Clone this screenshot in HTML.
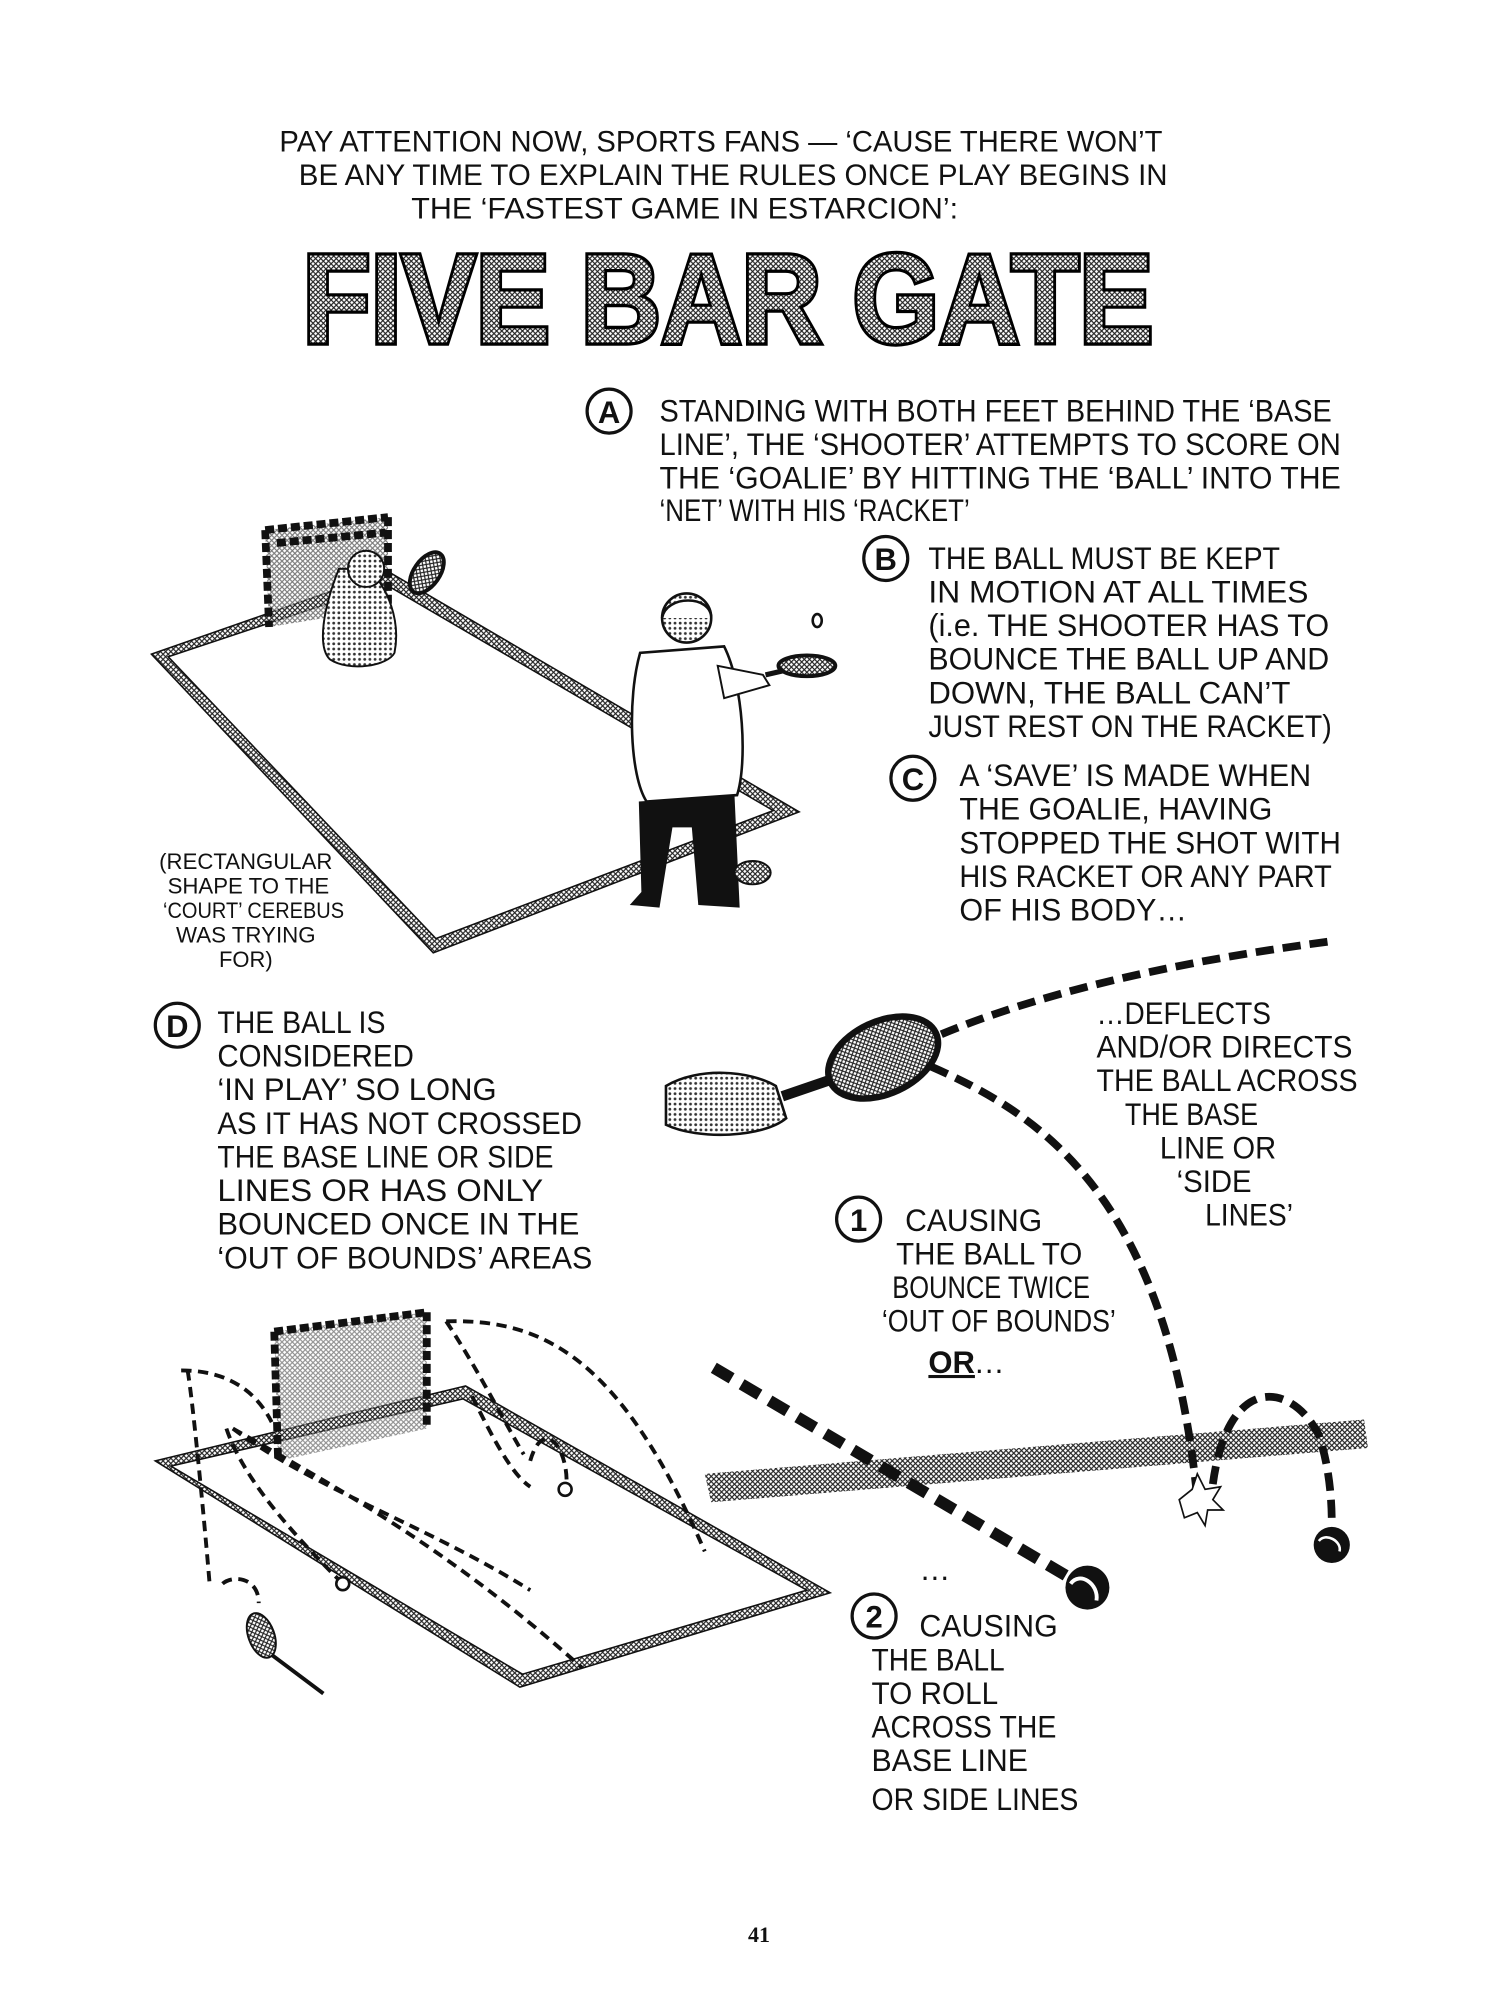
<!DOCTYPE html>
<html><head><meta charset="utf-8"><style>
html,body{margin:0;padding:0;background:#fff;}
svg{display:block;}
text{font-family:"Liberation Sans",sans-serif;fill:#111;}
</style></head><body>
<svg width="1500" height="2000" viewBox="0 0 1160 1547" xmlns="http://www.w3.org/2000/svg">
<defs>
<pattern id="hatch" width="4" height="4" patternUnits="userSpaceOnUse">
<rect width="4" height="4" fill="#fff"/><path d="M0 0L4 4M4 0L0 4" stroke="#222" stroke-width="0.9"/>
</pattern>
<pattern id="dots" width="4" height="4" patternUnits="userSpaceOnUse">
<rect width="4" height="4" fill="#fff"/><circle cx="2" cy="2" r="1.1" fill="#333"/>
</pattern>
</defs>

<g font-size="23">
<text x="216" y="117" textLength="683" lengthAdjust="spacingAndGlyphs">PAY ATTENTION NOW, SPORTS FANS — ‘CAUSE THERE WON’T</text>
<text x="231" y="143" textLength="672" lengthAdjust="spacingAndGlyphs">BE ANY TIME TO EXPLAIN THE RULES ONCE PLAY BEGINS IN</text>
<text x="318" y="169" textLength="423" lengthAdjust="spacingAndGlyphs">THE ‘FASTEST GAME IN ESTARCION’:</text>
</g>

<text x="234" y="265" font-size="98" font-weight="bold" textLength="658" lengthAdjust="spacingAndGlyphs" style="fill:url(#hatch);stroke:#000;stroke-width:5;paint-order:stroke">FIVE BAR GATE</text>

<g fill="#fff" stroke="#111" stroke-width="2.5">
<circle cx="471" cy="318" r="17"/><circle cx="685" cy="432" r="17"/><circle cx="706" cy="602" r="17"/>
<circle cx="137" cy="793" r="17"/><circle cx="664" cy="943" r="17"/><circle cx="676" cy="1250" r="17"/>
</g>
<g font-size="24" font-weight="bold" text-anchor="middle">
<text x="471" y="327">A</text><text x="685" y="441">B</text><text x="706" y="611">C</text>
<text x="137" y="802">D</text><text x="664" y="952">1</text><text x="676" y="1259">2</text>
</g>

<g font-size="24">
<text x="510" y="326" textLength="520" lengthAdjust="spacingAndGlyphs">STANDING WITH BOTH FEET BEHIND THE ‘BASE</text>
<text x="510" y="352" textLength="527" lengthAdjust="spacingAndGlyphs">LINE’, THE ‘SHOOTER’ ATTEMPTS TO SCORE ON</text>
<text x="510" y="378" textLength="527" lengthAdjust="spacingAndGlyphs">THE ‘GOALIE’ BY HITTING THE ‘BALL’ INTO THE</text>
<text x="510" y="403" textLength="240" lengthAdjust="spacingAndGlyphs">‘NET’ WITH HIS ‘RACKET’</text>

<text x="718" y="440" textLength="272" lengthAdjust="spacingAndGlyphs">THE BALL MUST BE KEPT</text>
<text x="718" y="466" textLength="294" lengthAdjust="spacingAndGlyphs">IN MOTION AT ALL TIMES</text>
<text x="718" y="492" textLength="310" lengthAdjust="spacingAndGlyphs">(i.e. THE SHOOTER HAS TO</text>
<text x="718" y="518" textLength="310" lengthAdjust="spacingAndGlyphs">BOUNCE THE BALL UP AND</text>
<text x="718" y="544" textLength="280" lengthAdjust="spacingAndGlyphs">DOWN, THE BALL CAN’T</text>
<text x="718" y="570" textLength="312" lengthAdjust="spacingAndGlyphs">JUST REST ON THE RACKET)</text>

<text x="742" y="608" textLength="272" lengthAdjust="spacingAndGlyphs">A ‘SAVE’ IS MADE WHEN</text>
<text x="742" y="634" textLength="242" lengthAdjust="spacingAndGlyphs">THE GOALIE, HAVING</text>
<text x="742" y="660" textLength="295" lengthAdjust="spacingAndGlyphs">STOPPED THE SHOT WITH</text>
<text x="742" y="686" textLength="288" lengthAdjust="spacingAndGlyphs">HIS RACKET OR ANY PART</text>
<text x="742" y="712" textLength="176" lengthAdjust="spacingAndGlyphs">OF HIS BODY…</text>

<text x="168" y="799" textLength="130" lengthAdjust="spacingAndGlyphs">THE BALL IS</text>
<text x="168" y="825" textLength="152" lengthAdjust="spacingAndGlyphs">CONSIDERED</text>
<text x="168" y="851" textLength="216" lengthAdjust="spacingAndGlyphs">‘IN PLAY’ SO LONG</text>
<text x="168" y="877" textLength="282" lengthAdjust="spacingAndGlyphs">AS IT HAS NOT CROSSED</text>
<text x="168" y="903" textLength="260" lengthAdjust="spacingAndGlyphs">THE BASE LINE OR SIDE</text>
<text x="168" y="929" textLength="252" lengthAdjust="spacingAndGlyphs">LINES OR HAS ONLY</text>
<text x="168" y="955" textLength="280" lengthAdjust="spacingAndGlyphs">BOUNCED ONCE IN THE</text>
<text x="168" y="981" textLength="290" lengthAdjust="spacingAndGlyphs">‘OUT OF BOUNDS’ AREAS</text>

<text x="848" y="792" textLength="135" lengthAdjust="spacingAndGlyphs">…DEFLECTS</text>
<text x="848" y="818" textLength="198" lengthAdjust="spacingAndGlyphs">AND/OR DIRECTS</text>
<text x="848" y="844" textLength="202" lengthAdjust="spacingAndGlyphs">THE BALL ACROSS</text>
<text x="870" y="870" textLength="103" lengthAdjust="spacingAndGlyphs">THE BASE</text>
<text x="897" y="896" textLength="90" lengthAdjust="spacingAndGlyphs">LINE OR</text>
<text x="910" y="922" textLength="58" lengthAdjust="spacingAndGlyphs">‘SIDE</text>
<text x="932" y="948" textLength="68" lengthAdjust="spacingAndGlyphs">LINES’</text>

<text x="700" y="952" textLength="106" lengthAdjust="spacingAndGlyphs">CAUSING</text>
<text x="693" y="978" textLength="144" lengthAdjust="spacingAndGlyphs">THE BALL TO</text>
<text x="690" y="1004" textLength="153" lengthAdjust="spacingAndGlyphs">BOUNCE TWICE</text>
<text x="682" y="1030" textLength="181" lengthAdjust="spacingAndGlyphs">‘OUT OF BOUNDS’</text>
<text x="718" y="1062" font-weight="bold" text-decoration="underline">OR</text><text x="753" y="1062">…</text>

<text x="711" y="1222">…</text>
<text x="711" y="1266" textLength="107" lengthAdjust="spacingAndGlyphs">CAUSING</text>
<text x="674" y="1292" textLength="103" lengthAdjust="spacingAndGlyphs">THE BALL</text>
<text x="674" y="1318" textLength="98" lengthAdjust="spacingAndGlyphs">TO ROLL</text>
<text x="674" y="1344" textLength="143" lengthAdjust="spacingAndGlyphs">ACROSS THE</text>
<text x="674" y="1370" textLength="121" lengthAdjust="spacingAndGlyphs">BASE LINE</text>
<text x="674" y="1400" textLength="160" lengthAdjust="spacingAndGlyphs">OR SIDE LINES</text>
</g>

<g font-size="17" text-anchor="middle">
<text x="190" y="672" textLength="134" lengthAdjust="spacingAndGlyphs">(RECTANGULAR</text>
<text x="192" y="691" textLength="125" lengthAdjust="spacingAndGlyphs">SHAPE TO THE</text>
<text x="196" y="710" textLength="140" lengthAdjust="spacingAndGlyphs">‘COURT’ CEREBUS</text>
<text x="190" y="729" textLength="108" lengthAdjust="spacingAndGlyphs">WAS TRYING</text>
<text x="190" y="748">FOR)</text>
</g>
<text x="587" y="1502" font-size="17" font-weight="bold" text-anchor="middle" style="font-family:'Liberation Serif',serif">41</text>

<!-- Court 1 -->
<path d="M117 506L300 442L618 628L335 737Z M130 508L298 452L598 627L337 726Z" fill="url(#hatch)" fill-rule="evenodd" stroke="#111" stroke-width="1.2"/>
<path d="M205 410L300 400L300 470L208 485Z" fill="url(#hatch)" opacity="0.6"/>
<path d="M205 410L300 400M205 410L208 485M300 400L300 470M214 420L298 412" stroke="#111" stroke-width="6" fill="none" stroke-dasharray="7 3"/>
<path d="M262 440C250 470 245 500 255 510C270 520 300 515 305 505C310 480 300 455 285 440Z" fill="url(#dots)" stroke="#111" stroke-width="1.5"/>
<circle cx="283" cy="440" r="14" fill="url(#dots)" stroke="#111" stroke-width="1.5"/>
<ellipse cx="330" cy="443" rx="10" ry="18" transform="rotate(35 330 443)" fill="url(#hatch)" stroke="#111" stroke-width="3"/>
<path d="M495 505C485 540 487 600 500 620L570 615C578 590 575 530 560 500Z" fill="#fff" stroke="#111" stroke-width="2"/>
<path d="M555 515L590 522L595 530L560 540Z" fill="#fff" stroke="#111" stroke-width="1.5"/>
<path d="M494 620L496 690L487 700L510 702L520 640L535 640L540 700L572 702L568 615Z" fill="#111"/>
<circle cx="531" cy="478" r="19" fill="url(#dots)" stroke="#111" stroke-width="2"/>
<path d="M512 478C515 460 550 460 550 478" fill="#fff" stroke="#111" stroke-width="2"/>
<line x1="592" y1="522" x2="605" y2="519" stroke="#111" stroke-width="4"/>
<ellipse cx="624" cy="515" rx="22" ry="8" fill="url(#hatch)" stroke="#111" stroke-width="3"/>
<ellipse cx="632" cy="480" rx="3.5" ry="5" fill="#fff" stroke="#111" stroke-width="2"/>
<ellipse cx="582" cy="675" rx="14" ry="9" fill="url(#hatch)" stroke="#111" stroke-width="1.5"/>

<!-- Court 2 -->
<path d="M120 1130L360 1072L642 1232L402 1305Z M132 1134L358 1082L624 1230L404 1295Z" fill="url(#hatch)" fill-rule="evenodd" stroke="#111" stroke-width="1.2"/>
<path d="M212 1030L330 1015L330 1105L215 1130Z" fill="url(#hatch)" opacity="0.5"/>
<path d="M212 1030L330 1015M212 1030L215 1130M330 1015L330 1105" stroke="#111" stroke-width="6" fill="none" stroke-dasharray="7 3"/>
<g fill="none" stroke="#111" stroke-width="3" stroke-dasharray="8 5">
<path d="M140 1060C180 1060 200 1080 210 1100"/>
<path d="M145 1060C150 1090 160 1200 162 1225"/>
<path d="M175 1105C190 1150 240 1200 265 1225"/>
<path d="M180 1105C260 1150 350 1200 450 1290"/>
<path d="M180 1105C240 1150 330 1180 410 1230"/>
<path d="M345 1022C420 1020 480 1050 545 1200"/>
<path d="M345 1022C370 1060 390 1100 405 1125"/>
<path d="M365 1080C380 1110 395 1140 410 1150"/>
<path d="M410 1130C420 1095 440 1120 438 1150"/>
<path d="M172 1225C180 1218 200 1220 200 1240"/>
</g>
<circle cx="437" cy="1152" r="5" fill="#fff" stroke="#111" stroke-width="2"/>
<circle cx="265" cy="1225" r="5" fill="#fff" stroke="#111" stroke-width="2"/>
<ellipse cx="202" cy="1265" rx="10" ry="18" transform="rotate(-20 202 1265)" fill="url(#hatch)" stroke="#111" stroke-width="1.5"/>
<line x1="210" y1="1280" x2="250" y2="1310" stroke="#111" stroke-width="3"/>

<path d="M545 1140L1055 1098L1058 1120L550 1162Z" fill="url(#hatch)"/>
<path d="M552 1058L830 1222" fill="none" stroke="#111" stroke-width="9" stroke-dasharray="16 9"/>
<circle cx="841" cy="1228" r="17" fill="#111"/><path d="M828 1225C835 1215 850 1225 848 1238" stroke="#fff" stroke-width="3" fill="none"/>
<path d="M515 840C540 825 580 828 600 840L608 865C590 880 540 882 515 870Z" fill="url(#dots)" stroke="#111" stroke-width="2"/>
<line x1="605" y1="848" x2="640" y2="836" stroke="#111" stroke-width="8"/>
<ellipse cx="683" cy="818" rx="45" ry="28" transform="rotate(-25 683 818)" fill="url(#hatch)" stroke="#111" stroke-width="5"/>
<path d="M728 800C800 770 900 745 1030 728" fill="none" stroke="#111" stroke-width="6" stroke-dasharray="14 7"/>
<path d="M720 825C800 860 900 920 925 1150" fill="none" stroke="#111" stroke-width="6" stroke-dasharray="14 7"/>
<path d="M938 1148C950 1060 1000 1070 1020 1110C1030 1140 1030 1170 1030 1180" fill="none" stroke="#111" stroke-width="6" stroke-dasharray="14 7"/>
<circle cx="1030" cy="1195" r="14" fill="#111"/><path d="M1020 1192C1025 1185 1038 1192 1036 1200" stroke="#fff" stroke-width="2" fill="none"/>
<path d="M912 1160l10 -8l4 -12l6 12l12 -2l-6 10l8 8l-12 0l-2 12l-6 -10l-10 4Z" fill="#fff" stroke="#111" stroke-width="1.3"/>
</svg>
</body></html>
